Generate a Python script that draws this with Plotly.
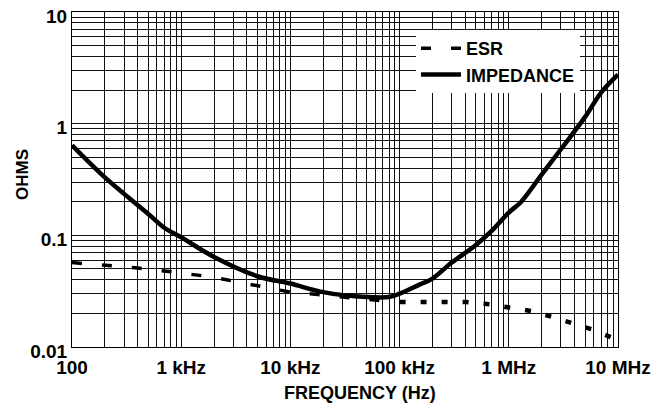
import plotly.graph_objects as go

# Impedance (ohms) vs frequency (Hz)
imp_freq = [100, 200, 300, 500, 700, 1e3, 2e3, 5e3, 1e4, 2e4, 5e4, 8e4, 1e5, 1.5e5,
            2e5, 3e5, 5e5, 7e5, 1e6, 1.3e6, 2e6, 3e6, 5e6, 7e6, 1e7]
imp_vals = [0.64, 0.33, 0.235, 0.155, 0.117, 0.096, 0.064, 0.043, 0.037, 0.031, 0.028,
            0.028, 0.030, 0.036, 0.041, 0.057, 0.082, 0.11, 0.16, 0.20, 0.35, 0.59,
            1.15, 1.9, 2.75]

# ESR (ohms): dashed section and dotted section
esr_freq_a = [100, 200, 400, 700, 1e3, 1.7e3, 2.6e3, 4e3, 6e3, 1e4, 1.7e4, 3e4, 6.6e4, 1e5]
esr_vals_a = [0.057, 0.054, 0.051, 0.048, 0.046, 0.043, 0.040, 0.037, 0.034, 0.031,
              0.0296, 0.028, 0.026, 0.025]
esr_freq_b = [1e5, 2e5, 4e5, 6.3e5, 1e6, 1.6e6, 2.5e6, 3.9e6, 6e6, 9e6, 1e7]
esr_vals_b = [0.0253, 0.0253, 0.0253, 0.0243, 0.0228, 0.021, 0.0186, 0.0161, 0.0142,
              0.012, 0.0115]

x_decades = [100, 1e3, 1e4, 1e5, 1e6, 1e7]
x_labels = ["100", "1 kHz", "10 kHz", "100 kHz", "1 MHz", "10 MHz"]
y_decades = [0.01, 0.1, 1, 10]
y_labels = ["0.01", "0.1", "1", "10"]


def log_grid(decades, labels):
    vals, texts = [], []
    for i, d in enumerate(decades):
        vals.append(d)
        texts.append("<b>" + labels[i] + "</b>")
        if i < len(decades) - 1:
            for m in range(2, 10):
                vals.append(d * m)
                texts.append("")
    return vals, texts


xv, xt = log_grid(x_decades, x_labels)
yv, yt = log_grid(y_decades, y_labels)

FONT = "Liberation Sans"
# page body has an 8px margin, so the figure is drawn 8px in from top/left
W, H = 656, 399
L, T = 64, 4
PLOT_W = 546
PLOT_H = 335
R = W - L - PLOT_W
B = H - T - PLOT_H

fig = go.Figure()
fig.add_trace(go.Scatter(x=esr_freq_a, y=esr_vals_a, mode="lines", name="<b>ESR</b>",
                         line=dict(color="black", width=3.5, dash="10px,20px")))
fig.add_trace(go.Scatter(x=esr_freq_b, y=esr_vals_b, mode="lines", name="<b>ESR</b>",
                         showlegend=False,
                         line=dict(color="black", width=4.5, dash="6px,15px")))
fig.add_trace(go.Scatter(x=imp_freq, y=imp_vals, mode="lines", name="<b>IMPEDANCE</b>",
                         line=dict(color="black", width=4.5, shape="spline")))

fig.update_layout(
    width=W, height=H,
    margin=dict(l=L, r=R, t=T, b=B, autoexpand=False),
    paper_bgcolor="white", plot_bgcolor="white",
    font=dict(family=FONT, color="black", size=18),
    legend=dict(x=(416 - 72) / PLOT_W, y=(347 - 30) / PLOT_H, xanchor="left", yanchor="top",
                bgcolor="white", borderwidth=0,
                font=dict(family=FONT, size=18, color="black"),
                itemwidth=40),
    showlegend=True,
)
fig.update_xaxes(type="log", range=[2, 7], tickvals=xv, ticktext=xt,
                 showgrid=True, gridcolor="#111", gridwidth=1,
                 showline=True, linecolor="black", linewidth=1, mirror=True,
                 ticks="", tickfont=dict(family=FONT, size=19, color="black"),
                 zeroline=False, automargin=False, ticklabeloverflow="allow",
                 ticklabelstandoff=3)
fig.update_yaxes(type="log", range=[-2, 1], tickvals=yv, ticktext=yt,
                 showgrid=True, gridcolor="#111", gridwidth=1,
                 showline=True, linecolor="black", linewidth=1, mirror=True,
                 ticks="", tickfont=dict(family=FONT, size=19, color="black"),
                 zeroline=False, automargin=False, ticklabeloverflow="allow",
                 ticklabelshift=4)

fig.add_annotation(text="<b>FREQUENCY (Hz)</b>", xref="paper", yref="paper",
                   x=(360 - 72) / PLOT_W, y=-(393 - 347) / PLOT_H,
                   showarrow=False, font=dict(family=FONT, size=18, color="black"),
                   xanchor="center", yanchor="middle")
fig.add_annotation(text="<b>OHMS</b>", xref="paper", yref="paper",
                   x=-(72 - 22) / PLOT_W, y=(347 - 175) / PLOT_H, textangle=-90,
                   showarrow=False, font=dict(family=FONT, size=17, color="black"),
                   xanchor="center", yanchor="middle")

fig.write_html("out.html")
